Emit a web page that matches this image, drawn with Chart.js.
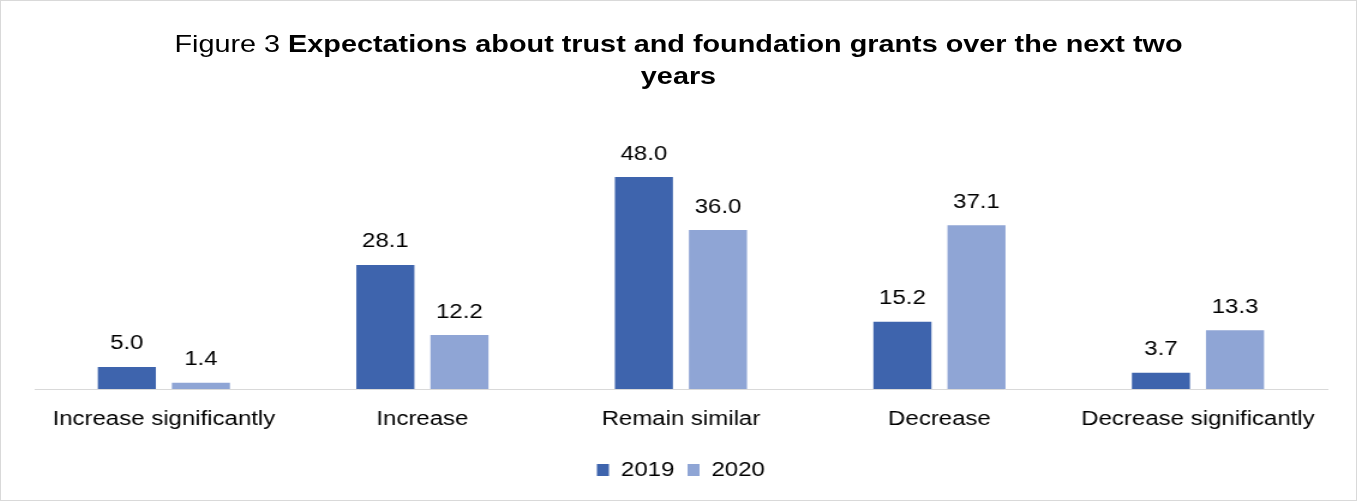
<!DOCTYPE html>
<html>
<head>
<meta charset="utf-8">
<script src="https://cdn.jsdelivr.net/npm/chart.js@4"></script>
<style>
  html, body { margin: 0; padding: 0; background: #fff; }
  #wrap { position: relative; width: 1357px; height: 501px; box-sizing: border-box; border: 1px solid #d9d9d9; overflow: hidden; }
  #title { position: absolute; left: 0; top: 27px; width: 1355px; text-align: center;
    font-family: "Liberation Sans", Arial, sans-serif; font-size: 24px; line-height: 32px; color: #000;
    transform: scaleX(1.2); transform-origin: 50% 0; }
  #title b { font-weight: bold; }
  #stretch { position: absolute; left: 0; top: 0; width: 1129px; height: 499px;
    transform: scaleX(1.2002); transform-origin: 0 0; }
  canvas { display: block; }
</style>
</head>
<body>
<div id="wrap">
  <div id="stretch"><canvas id="c" width="1129" height="499"></canvas></div>
  <div id="title">Figure 3 <b>Expectations about trust and foundation grants over the next two<br>years</b></div>
</div>
<script>
const categories = ["Increase significantly", "Increase", "Remain similar", "Decrease", "Decrease significantly"];
const values2019 = [5.0, 28.1, 48.0, 15.2, 3.7];
const values2020 = [1.4, 12.2, 36.0, 37.1, 13.3];
const seriesNames = ["2019", "2020"];

const FONT = '"Liberation Sans", Arial, sans-serif';

const valueLabels = {
  id: 'valueLabels',
  afterDatasetsDraw(chart) {
    const ctx = chart.ctx;
    ctx.save();
    ctx.font = '20px ' + FONT;
    ctx.fillStyle = '#000';
    ctx.textAlign = 'center';
    ctx.textBaseline = 'middle';
    chart.data.datasets.forEach((ds, i) => {
      const meta = chart.getDatasetMeta(i);
      meta.data.forEach((el, j) => {
        ctx.fillText(ds.data[j].toFixed(1), el.x, el.y - 23);
      });
    });
    ctx.restore();
  }
};

new Chart(document.getElementById('c'), {
  type: 'bar',
  data: {
    labels: categories,
    datasets: [
      { label: seriesNames[0], data: values2019, backgroundColor: '#3E64AD', categoryPercentage: 0.573, barPercentage: 0.784 },
      { label: seriesNames[1], data: values2020, backgroundColor: '#8FA5D5', categoryPercentage: 0.573, barPercentage: 0.784 }
    ]
  },
  options: {
    responsive: false,
    animation: false,
    devicePixelRatio: 1,
    layout: { padding: { left: 28, right: 24, top: 123, bottom: 10 } },
    scales: {
      x: {
        grid: { display: false, drawTicks: false },
        border: { display: true, color: '#d9d9d9', width: 1 },
        ticks: { color: '#000', font: { family: FONT, size: 20 }, padding: 18, maxRotation: 0, autoSkip: false }
      },
      y: { display: false, min: 0, max: 60 }
    },
    plugins: {
      legend: {
        position: 'bottom',
        labels: { color: '#000', boxWidth: 10, boxHeight: 12, padding: 11, font: { family: FONT, size: 20 } }
      },
      tooltip: { enabled: false }
    }
  },
  plugins: [valueLabels]
});
</script>
</body>
</html>
